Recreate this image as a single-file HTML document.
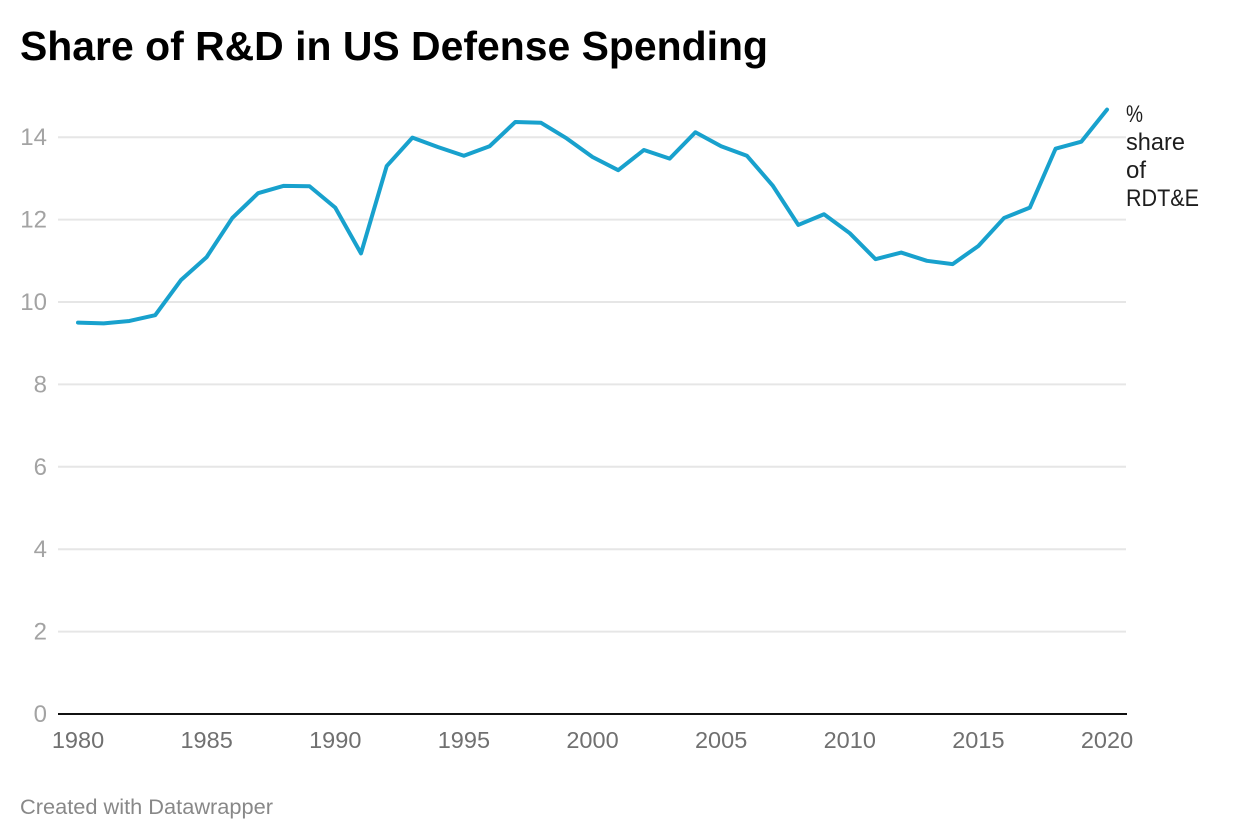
<!DOCTYPE html>
<html lang="en">
<head>
<meta charset="utf-8">
<title>Share of R&amp;D in US Defense Spending</title>
<style>
html,body{margin:0;padding:0;background:#fff;width:1240px;height:840px;overflow:hidden}
svg{display:block;font-family:"Liberation Sans",sans-serif}
</style>
</head>
<body>
<svg id="chart" width="1240" height="840" viewBox="0 0 1240 840" xmlns="http://www.w3.org/2000/svg">
  <rect x="0" y="0" width="1240" height="840" fill="#ffffff"/>
  <text x="20" y="60" font-size="41" font-weight="700" fill="#000000" textLength="748" lengthAdjust="spacingAndGlyphs">Share of R&amp;D in US Defense Spending</text>
  <g id="grid"></g>
  <g id="yticks"></g>
  <g id="xticks"></g>
  <line x1="58" x2="1127" y1="714" y2="714" stroke="#111111" stroke-width="2"/>
  <path id="series-line" fill="none" stroke="#18a1cd" stroke-width="4" stroke-linejoin="round" stroke-linecap="round"/>
  <g font-size="24" fill="#1d1d1d">
    <text x="1126" y="122" textLength="17" lengthAdjust="spacingAndGlyphs">%</text>
    <text x="1126" y="150" textLength="59" lengthAdjust="spacingAndGlyphs">share</text>
    <text x="1126" y="178">of</text>
    <text x="1126" y="206" textLength="73" lengthAdjust="spacingAndGlyphs">RDT&amp;E</text>
  </g>
  <text x="20" y="814" font-size="21" fill="#888888" textLength="253" lengthAdjust="spacingAndGlyphs">Created with Datawrapper</text>
</svg>
<script>
const years = [1980,1981,1982,1983,1984,1985,1986,1987,1988,1989,1990,1991,1992,1993,1994,1995,1996,1997,1998,1999,2000,2001,2002,2003,2004,2005,2006,2007,2008,2009,2010,2011,2012,2013,2014,2015,2016,2017,2018,2019,2020];
const shareValues = [9.5,9.48,9.54,9.68,10.53,11.09,12.04,12.64,12.82,12.81,12.29,11.18,13.3,13.99,13.76,13.55,13.78,14.37,14.35,13.97,13.52,13.2,13.69,13.48,14.12,13.78,13.55,12.83,11.87,12.13,11.67,11.04,11.2,11.0,10.92,11.36,12.04,12.29,13.72,13.89,14.67];
const yTickValues = [0,2,4,6,8,10,12,14];
const xTickValues = [1980,1985,1990,1995,2000,2005,2010,2015,2020];

function xScale(year) { return 78 + (year - 1980) * (1107 - 78) / (2020 - 1980); }
function yScale(value) { return 714 - value * (714 - 137.2) / 14; }

const NS = 'http://www.w3.org/2000/svg';
const grid = document.getElementById('grid');
const yG = document.getElementById('yticks');
const xG = document.getElementById('xticks');

yTickValues.forEach(function (v) {
  const y = yScale(v);
  if (v !== 0) {
    const ln = document.createElementNS(NS, 'line');
    
    
    ln.setAttribute('x1', 58);
    ln.setAttribute('x2', 1126);
    ln.setAttribute('y1', y);
    ln.setAttribute('y2', y);
    ln.setAttribute('stroke', '#e6e6e6');
    ln.setAttribute('stroke-width', 2);
    grid.appendChild(ln);
  }
  const t = document.createElementNS(NS, 'text');
  
  
  t.setAttribute('x', 47);
  t.setAttribute('y', y + 8);
  t.setAttribute('text-anchor', 'end');
  t.setAttribute('font-size', '24');
  t.setAttribute('fill', '#a3a3a3');
  t.textContent = v;
  yG.appendChild(t);
});

xTickValues.forEach(function (yr) {
  const t = document.createElementNS(NS, 'text');
  
  
  t.setAttribute('x', xScale(yr));
  t.setAttribute('y', 748);
  t.setAttribute('text-anchor', 'middle');
  t.setAttribute('font-size', '23.5');
  t.setAttribute('fill', '#707070');
  t.textContent = yr;
  xG.appendChild(t);
});

document.getElementById('series-line').setAttribute('d', years.map(function (yr, i) {
  return (i ? 'L' : 'M') + xScale(yr).toFixed(2) + ' ' + yScale(shareValues[i]).toFixed(2);
}).join(' '));
</script>
</body>
</html>
